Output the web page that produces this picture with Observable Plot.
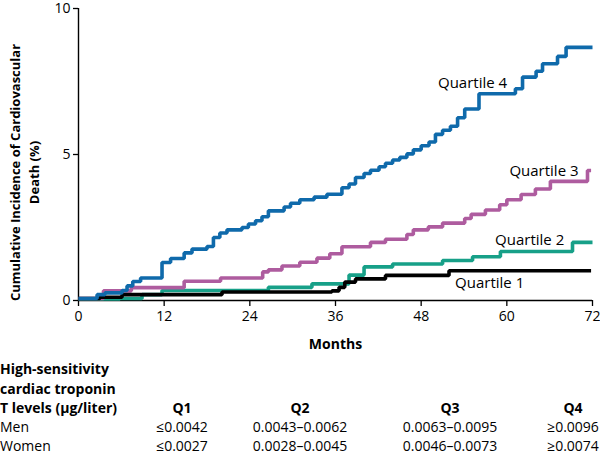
<!DOCTYPE html>
<html>
<head>
<meta charset="utf-8">
<script src="https://cdn.jsdelivr.net/npm/d3@7"></script>
<script src="https://cdn.jsdelivr.net/npm/@observablehq/plot@0.6"></script>
<style>
  html, body { margin: 0; padding: 0; background: #fff; }
  #wrap { position: relative; width: 600px; height: 455px; font-family: "Open Sans", sans-serif; color: #000; overflow: hidden; }
  #wrap .t { position: absolute; font-size: 14px; line-height: 1; white-space: nowrap; }
  #wrap .c { transform: translate(-50%, -50%); }
  #wrap .l { transform: translate(0, -50%); }
  #wrap .b { font-weight: bold; }
</style>
</head>
<body>
<div id="wrap"></div>
<script>
// ---- data ----
const xTicks = [0, 12, 24, 36, 48, 60, 72];
const yTicks = [0, 5, 10];

const q1Months = [0, 3.0, 6.1, 20.1, 35.5, 36.5, 37.3, 38.8, 43.0, 51.9, 71.8];
const q1Values = [0.07, 0.11, 0.2, 0.29, 0.33, 0.45, 0.63, 0.74, 0.86, 1.02, 1.02];

const q2Months = [0, 5.8, 8.9, 11.7, 26.6, 32.7, 37.9, 40.0, 44.0, 51.0, 55.2, 59.1, 69.2, 72];
const q2Values = [0.05, 0.07, 0.2, 0.34, 0.45, 0.57, 0.87, 1.15, 1.25, 1.37, 1.5, 1.68, 1.99, 1.99];

const q3Months = [0, 3.5, 7.4, 14.8, 19.9, 25.8, 26.6, 28.5, 31.0, 33.4, 35.2, 36.9, 40.9, 43.0, 46.0, 46.9, 49.0, 51.0, 54.1, 55.0, 57.0, 59.0, 60.0, 62.0, 64.0, 66.1, 71.3, 71.8];
const q3Values = [0.07, 0.33, 0.44, 0.66, 0.77, 0.98, 1.05, 1.18, 1.31, 1.45, 1.6, 1.84, 1.99, 2.1, 2.26, 2.42, 2.52, 2.65, 2.81, 2.95, 3.1, 3.28, 3.45, 3.63, 3.82, 4.08, 4.45, 4.45];

const q4Months = [0, 2.6, 3.7, 6.1, 6.8, 7.6, 8.7, 11.7, 12.9, 14.8, 15.9, 18.0, 18.9, 19.8, 20.8, 22.9, 23.8, 24.8, 25.7, 26.6, 28.8, 29.7, 31.0, 33.0, 34.8, 36.9, 37.9, 38.8, 40.0, 40.9, 42.1, 43.0, 44.0, 45.0, 46.0, 46.9, 48.0, 49.1, 50.0, 51.0, 52.1, 53.1, 54.1, 56.1, 61.2, 62.2, 64.1, 65.0, 67.1, 68.3, 72];
const q4Values = [0.07, 0.2, 0.26, 0.34, 0.5, 0.65, 0.77, 1.3, 1.44, 1.63, 1.76, 1.85, 2.16, 2.31, 2.42, 2.5, 2.62, 2.73, 2.87, 3.07, 3.2, 3.33, 3.45, 3.54, 3.64, 3.86, 3.99, 4.21, 4.35, 4.46, 4.58, 4.7, 4.81, 4.9, 5.02, 5.16, 5.3, 5.43, 5.69, 5.83, 5.97, 6.26, 6.56, 7.08, 7.25, 7.65, 7.85, 8.11, 8.36, 8.67, 8.67];

const seriesNames = ["Quartile 1", "Quartile 2", "Quartile 3", "Quartile 4"];
const seriesColors = ["#000000", "#17a088", "#ae5c9f", "#0f6aab"];

// label anchors (month, percent)
const labelMonths = [57.6, 63.2, 65.2, 55.2];
const labelValues = [0.58, 2.08, 4.44, 7.44];

const yTitle = "Cumulative Incidence of Cardiovascular\nDeath (%)";
const xTitle = "Months";

const tableTitle = ["High-sensitivity", "cardiac troponin", "T levels (\u03bcg/liter)"];
const quartileHeaders = ["Q1", "Q2", "Q3", "Q4"];
const rowLabels = ["Men", "Women"];
const menRanges = ["\u22640.0042", "0.0043\u20130.0062", "0.0063\u20130.0095", "\u22650.0096"];
const womenRanges = ["\u22640.0027", "0.0028\u20130.0045", "0.0046\u20130.0073", "\u22650.0074"];

// ---- build ----
function rows(months, values, name) {
  return months.map((m, i) => ({month: m, value: values[i], quartile: name}));
}
const allSeries = [
  rows(q1Months, q1Values, seriesNames[0]),
  rows(q2Months, q2Values, seriesNames[1]),
  rows(q3Months, q3Values, seriesNames[2]),
  rows(q4Months, q4Values, seriesNames[3])
];
const drawOrder = [1, 2, 0, 3];

const lineMarks = drawOrder.map(i => Plot.line(allSeries[i], {
  x: "month", y: "value", curve: "step-after",
  stroke: seriesColors[i], strokeWidth: 3.6,
  strokeLinejoin: "miter", strokeLinecap: "butt"
}));

const chart = Plot.plot({
  width: 600,
  height: 362,
  marginLeft: 78,
  marginRight: 8,
  marginTop: 8,
  marginBottom: 62,
  style: {fontFamily: "'Open Sans', sans-serif", fontSize: "14px", color: "#000", background: "#fff", overflow: "visible"},
  x: {domain: [0, 72]},
  y: {domain: [0, 10]},
  marks: [
    Plot.axisX({ticks: xTicks, tickSize: 6, tickPadding: 5, label: null, fontSize: 14, strokeWidth: 1.3}),
    Plot.axisY({ticks: yTicks, tickSize: 5, tickPadding: 3, label: null, fontSize: 14, strokeWidth: 1.3}),
    Plot.ruleX([0], {stroke: "#000", strokeWidth: 1.4}),
    Plot.ruleY([0], {stroke: "#000", strokeWidth: 1.4}),
    ...lineMarks,
    Plot.text(seriesNames, {x: labelMonths, y: labelValues, text: d => d, fontSize: 15, fill: "#000", textAnchor: "middle"}),
    Plot.text([yTitle], {frameAnchor: "left", textAnchor: "middle", text: d => d, rotate: -90, dx: -55, dy: 18, lineHeight: 1.45, fontWeight: "bold", fontSize: 13}),
    Plot.text([xTitle], {frameAnchor: "bottom", text: d => d, dy: 48, fontWeight: "bold", fontSize: 14})
  ]
});

const wrap = document.getElementById("wrap");
chart.style.position = "absolute";
chart.style.left = "0px";
chart.style.top = "0px";
wrap.appendChild(chart);

function addText(txt, x, y, cls) {
  const s = document.createElement("span");
  s.className = "t " + cls;
  s.textContent = txt;
  s.style.left = x + "px";
  s.style.top = y + "px";
  wrap.appendChild(s);
}
const titleY = [369, 389, 408];
tableTitle.forEach((t, i) => addText(t, 0, titleY[i], "l b"));
const colX = [182, 300, 450, 573];
quartileHeaders.forEach((q, i) => addText(q, colX[i], 408, "c b"));
addText(rowLabels[0], 0, 427, "l");
addText(rowLabels[1], 0, 446, "l");
menRanges.forEach((v, i) => addText(v, colX[i], 427, "c"));
womenRanges.forEach((v, i) => addText(v, colX[i], 446, "c"));
</script>
</body>
</html>
